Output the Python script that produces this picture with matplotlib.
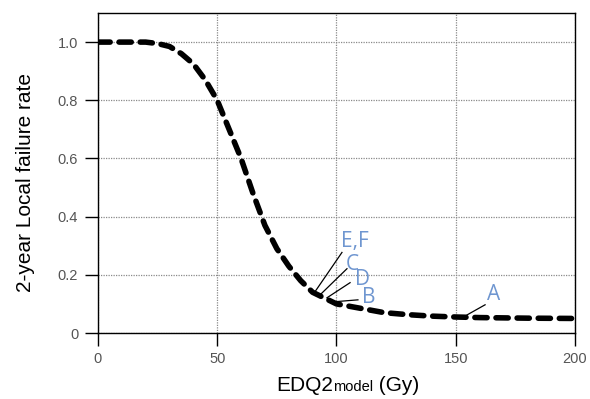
import matplotlib
matplotlib.use("Agg")
import matplotlib.pyplot as plt

# dose (Gy) vs 2-year local failure rate
dose = [0, 10, 20, 25, 30, 35, 40, 45, 50, 55, 60, 65, 70, 75, 80, 85, 90, 95,
        100, 110, 120, 130, 140, 150, 160, 180, 200]
failure = [1.0, 1.0, 1.0, 0.995, 0.985, 0.96, 0.925, 0.87, 0.80, 0.70, 0.60,
           0.48, 0.37, 0.29, 0.23, 0.18, 0.14, 0.12, 0.10, 0.085, 0.07, 0.063,
           0.058, 0.055, 0.053, 0.051, 0.05]

# labelled points: leader line from the curve to the label
labels = ["E,F", "C", "D", "B", "A"]
pt_x = [91.0, 93.1, 96.0, 98.5, 154.7]
pt_y = [0.142, 0.131, 0.121, 0.107, 0.062]
end_x = [102.3, 104.4, 105.7, 109.0, 162.3]
end_y = [0.277, 0.221, 0.173, 0.114, 0.097]
lab_x = [102.0, 104.0, 107.6, 110.6, 163.3]
lab_y = [0.294, 0.218, 0.166, 0.104, 0.114]

xticks = [0, 50, 100, 150, 200]
yticks = [0, 0.2, 0.4, 0.6, 0.8, 1.0]
ytick_labels = ["0", "0.2", "0.4", "0.6", "0.8", "1.0"]

plt.rcParams["font.family"] = ["Liberation Sans", "DejaVu Sans"]

fig = plt.figure(figsize=(5.9, 3.99), dpi=100)
ax = fig.add_axes([0.166, 0.1654, 0.8086, 0.802])

ax.plot(dose, failure, color="black", lw=4, linestyle=(0, (2.2, 1.6)),
        dash_capstyle="round", zorder=3)

for name, px, py, ex, ey, lx, ly in zip(labels, pt_x, pt_y, end_x, end_y, lab_x, lab_y):
    ax.plot([px, ex], [py, ey], color="black", lw=0.9, zorder=4)
    ax.text(lx, ly, name, ha="left", va="baseline", fontsize=15,
            color="#6f96d0", family=["Open Sans", "DejaVu Sans"])

ax.set_xlim(0, 200)
ax.set_ylim(0, 1.1)
ax.set_xticks(xticks)
ax.set_yticks(yticks)
ax.set_yticklabels(ytick_labels)
ax.grid(True, linestyle=(0, (1, 1)), color="#8a8a8a", lw=0.9)
ax.tick_params(direction="out", length=9.2, width=1, labelsize=10.5,
               labelcolor="#555555")
ax.tick_params(axis="y", pad=5)
ax.tick_params(axis="x", pad=4.5)
for sp in ax.spines.values():
    sp.set_linewidth(1)

fig.text(26 / 590, (399 - 182) / 399, "2-year Local failure rate", rotation=90,
         fontsize=15, ha="center", va="center")

# x label: "EDQ2" + smaller "model" on the same baseline + " (Gy)"
fig.canvas.draw()
r = fig.canvas.get_renderer()
parts = [("EDQ2", 15), ("model", 10.5), (" (Gy)", 15)]
texts = [fig.text(0, 8 / 399, s, fontsize=fs, va="baseline") for s, fs in parts]
widths = [t.get_window_extent(r).width for t in texts]
x0 = 348 - sum(widths) / 2
for t, w in zip(texts, widths):
    t.set_x(x0 / 590)
    x0 += w

fig.savefig("out.png", dpi=100)
